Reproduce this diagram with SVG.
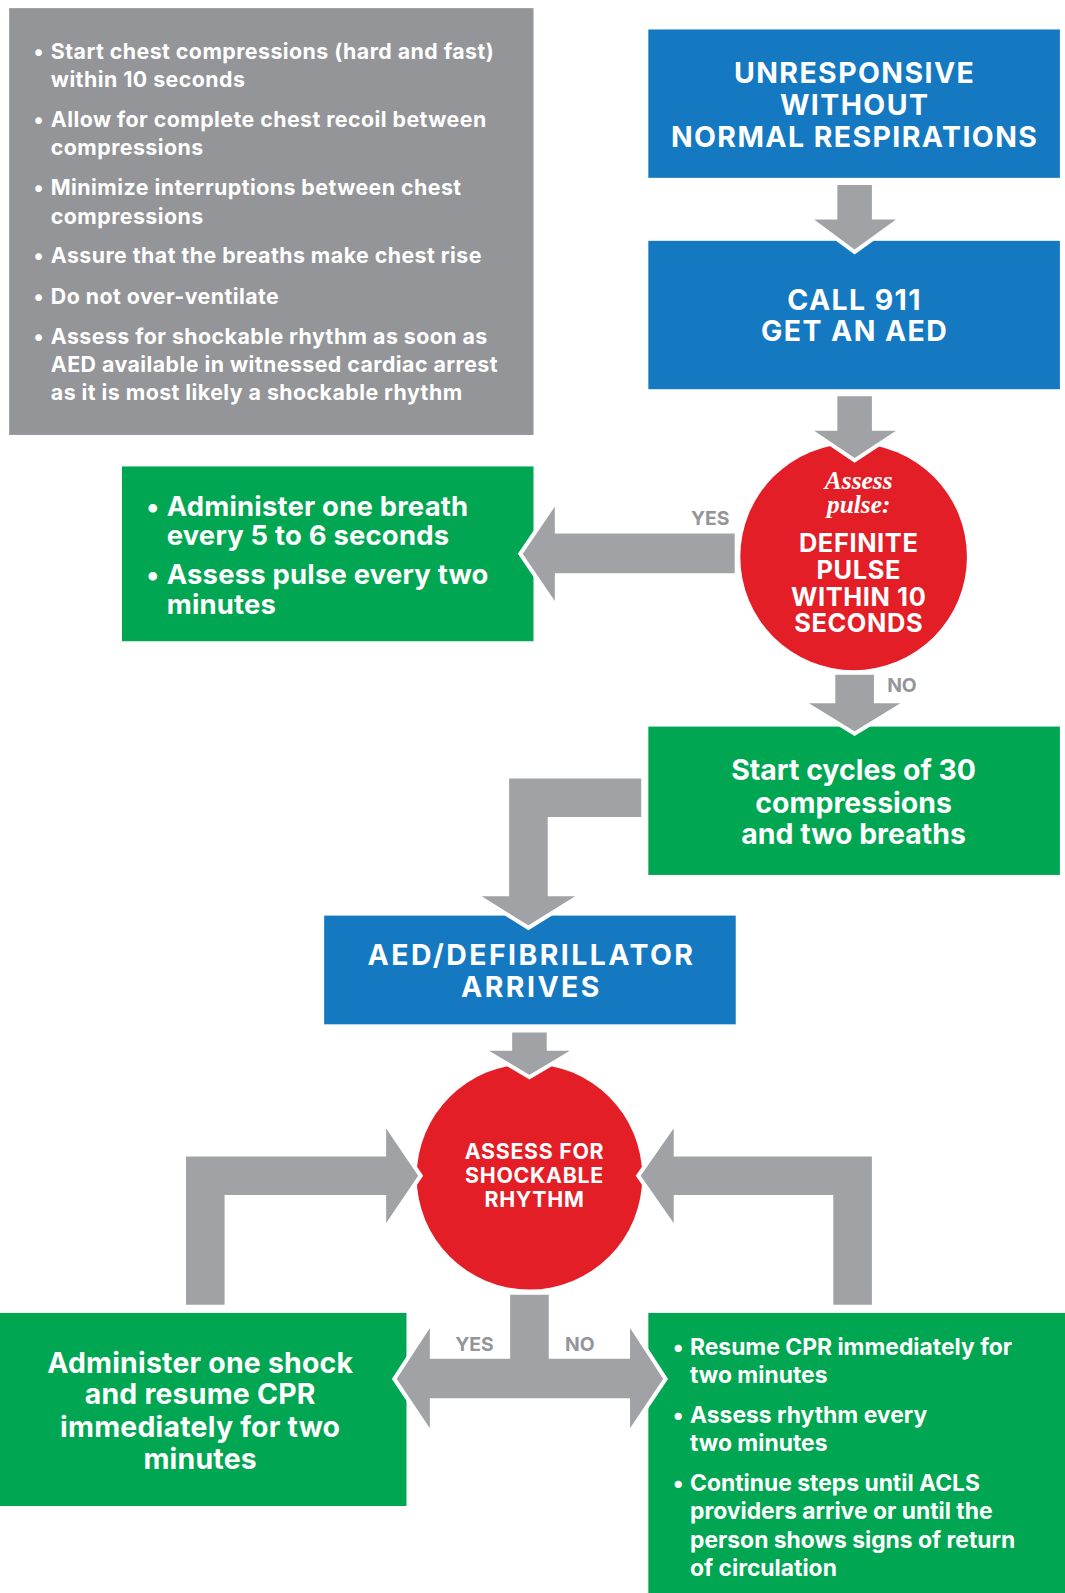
<svg xmlns="http://www.w3.org/2000/svg" width="1065" height="1593" viewBox="0 0 1065 1593">
<style>
.gray{fill:#939598}
.blue{fill:#1479c1}
.green{fill:#00a651}
.red{fill:#e31e26}
.arr{fill:#a0a2a5;stroke:#fff;stroke-width:4;stroke-linejoin:miter}
text{font-family:Inter,"Open Sans","DejaVu Sans",sans-serif;font-weight:700;fill:#fff}
.hd{font-size:28px;text-anchor:middle;letter-spacing:1.4px}
.gt{font-size:21px;letter-spacing:0.45px}
.gb{font-size:27px;letter-spacing:0.2px}
.rt{font-size:22.5px;letter-spacing:0px}
.ct{font-size:25px;text-anchor:middle;letter-spacing:0.6px}
.lbl{font-size:19px;fill:#939598}
.ital{font-family:"Liberation Serif","DejaVu Serif",serif;font-style:italic;font-weight:700;font-size:25px;text-anchor:middle}
.c2{font-size:21px;text-anchor:middle;letter-spacing:0.7px}
</style>
<rect width="1065" height="1593" fill="#fff"/>
<g transform="scale(1.0162)">
<g id="guidelines">
<rect class="gray" x="9" y="8" width="516" height="420"/>
<text class="gt"><tspan x="33" y="58">•</tspan><tspan x="50" y="58">Start chest compressions (hard and fast)</tspan><tspan x="50" y="86">within 10 seconds</tspan>
<tspan x="33" y="125">•</tspan><tspan x="50" y="125">Allow for complete chest recoil between</tspan><tspan x="50" y="153">compressions</tspan>
<tspan x="33" y="192">•</tspan><tspan x="50" y="192">Minimize interruptions between chest</tspan><tspan x="50" y="220">compressions</tspan>
<tspan x="33" y="259">•</tspan><tspan x="50" y="259">Assure that the breaths make chest rise</tspan>
<tspan x="33" y="299">•</tspan><tspan x="50" y="299">Do not over-ventilate</tspan>
<tspan x="33" y="339">•</tspan><tspan x="50" y="339">Assess for shockable rhythm as soon as</tspan><tspan x="50" y="366">AED available in witnessed cardiac arrest</tspan><tspan x="50" y="394">as it is most likely a shockable rhythm</tspan></text>
</g>
<g id="unresponsive">
<rect class="blue" x="638" y="29" width="405" height="146"/>
<text class="hd"><tspan x="841" y="82">UNRESPONSIVE</tspan><tspan x="841" y="113">WITHOUT</tspan><tspan x="841" y="145">NORMAL RESPIRATIONS</tspan></text>
</g>
<g id="call911">
<rect class="blue" x="638" y="237" width="405" height="146"/>
<text class="hd"><tspan x="841" y="305">CALL 911</tspan><tspan x="841" y="336">GET AN AED</tspan></text>
</g>
<g id="assess-pulse">
<circle class="red" cx="840" cy="548" r="111.5"/>
<text class="ital"><tspan x="845" y="481">Assess</tspan><tspan x="845" y="505">pulse:</tspan></text>
<text class="ct"><tspan x="845" y="543">DEFINITE</tspan><tspan x="845" y="570">PULSE</tspan><tspan x="845" y="596">WITHIN 10</tspan><tspan x="845" y="622">SECONDS</tspan></text>
</g>
<g id="rescue-breathing">
<rect class="green" x="120" y="459" width="405" height="172"/>
<text class="gb"><tspan x="144" y="508">•</tspan><tspan x="164" y="508">Administer one breath</tspan><tspan x="164" y="536">every 5 to 6 seconds</tspan>
<tspan x="144" y="575">•</tspan><tspan x="164" y="575">Assess pulse every two</tspan><tspan x="164" y="604">minutes</tspan></text>
</g>
<g id="start-cycles">
<rect class="green" x="638" y="715" width="405" height="146"/>
<text class="hd" style="letter-spacing:0"><tspan x="840" y="768">Start cycles of 30</tspan><tspan x="840" y="800">compressions</tspan><tspan x="840" y="831">and two breaths</tspan></text>
</g>
<g id="aed-arrives">
<rect class="blue" x="319" y="901" width="405" height="107"/>
<text class="hd" style="letter-spacing:2.4px"><tspan x="523" y="950">AED/DEFIBRILLATOR</tspan><tspan x="523" y="981">ARRIVES</tspan></text>
</g>
<g id="assess-rhythm">
<circle class="red" cx="521" cy="1158" r="111"/>
<text class="c2"><tspan x="526" y="1141">ASSESS FOR</tspan><tspan x="526" y="1164">SHOCKABLE</tspan><tspan x="526" y="1188">RHYTHM</tspan></text>
</g>
<g id="shock">
<rect class="green" x="0" y="1292" width="400" height="190"/>
<text class="hd" style="letter-spacing:0.2px"><tspan x="197" y="1351">Administer one shock</tspan><tspan x="197" y="1382">and resume CPR</tspan><tspan x="197" y="1414">immediately for two</tspan><tspan x="197" y="1446">minutes</tspan></text>
</g>
<g id="resume-cpr">
<rect class="green" x="638" y="1292" width="415" height="290"/>
<text class="rt"><tspan x="662" y="1333">•</tspan><tspan x="679" y="1333">Resume CPR immediately for</tspan><tspan x="679" y="1361">two minutes</tspan>
<tspan x="662" y="1400">•</tspan><tspan x="679" y="1400">Assess rhythm every</tspan><tspan x="679" y="1428">two minutes</tspan>
<tspan x="662" y="1467">•</tspan><tspan x="679" y="1467">Continue steps until ACLS</tspan><tspan x="679" y="1495">providers arrive or until the</tspan><tspan x="679" y="1523">person shows signs of return</tspan><tspan x="679" y="1551">of circulation</tspan></text>
</g>
<g id="connectors">
<polygon class="arr" points="822,180 860,180 860,214 888,214 841,248 795,214 822,214"/>
<polygon class="arr" points="822,388 860,388 860,422 888,422 841,453 795,422 822,422"/>
<polygon class="arr" points="725,523 548,523 548,492 512,545 548,598 548,566 725,566"/>
<polygon class="arr" points="820,662 862,662 862,690 893,690 841,722 789,690 820,690"/>
<polygon class="arr" points="633,764 633,806 541,806 541,880 573,880 520,913 467,880 499,880 499,764"/>
<polygon class="arr" points="502,1014 540,1014 540,1032 568,1032 521,1060 474,1032 502,1032"/>
<polygon class="arr" points="181,1286 181,1136 378,1136 378,1104 414,1157 378,1210 378,1178 223,1178 223,1286"/>
<polygon class="arr" points="860,1286 860,1136 665,1136 665,1104 628,1157 665,1210 665,1178 818,1178 818,1286"/>
<polygon class="arr" points="500,1272 542,1272 542,1335 618,1335 618,1300 655,1357 618,1412 618,1378 425,1378 425,1412 388,1357 425,1300 425,1335 500,1335"/>
<text class="lbl"><tspan x="680" y="517">YES</tspan><tspan x="873" y="681">NO</tspan><tspan x="448" y="1329">YES</tspan><tspan x="556" y="1329">NO</tspan></text>
</g>
</g>
</svg>
